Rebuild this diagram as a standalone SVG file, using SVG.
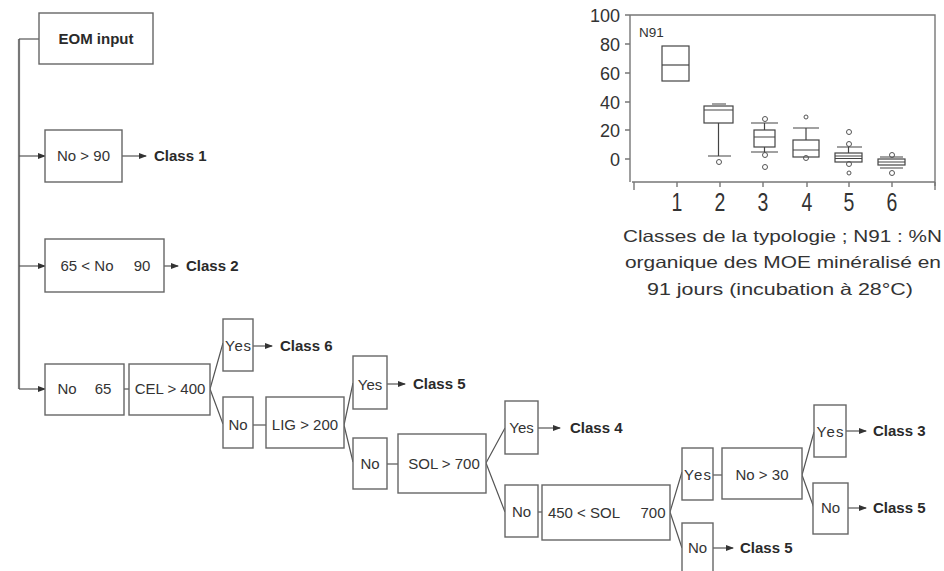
<svg xmlns="http://www.w3.org/2000/svg" width="944" height="571" viewBox="0 0 944 571">
<defs>
<style>
.bx{fill:#fff;stroke:#666;stroke-width:1.4}
.ln{fill:none;stroke:#555;stroke-width:1.2}
.ar{fill:none;stroke:#555;stroke-width:1.2;marker-end:url(#ah)}
.t{font-family:"Liberation Sans",Arial,sans-serif;font-size:15px;fill:#333;text-anchor:middle}
.c{font-family:"Liberation Sans",Arial,sans-serif;font-size:15px;font-weight:bold;fill:#2a2a2a}
.pl{fill:none;stroke:#444;stroke-width:1.2}
.ax{fill:none;stroke:#777;stroke-width:1.4}
.o{fill:none;stroke:#555;stroke-width:1}
.yl{font-family:"Liberation Sans",Arial,sans-serif;font-size:18px;fill:#333;text-anchor:end}
.xl{font-family:"Liberation Sans",Arial,sans-serif;font-size:25px;fill:#333;text-anchor:middle}
.cap{font-family:"Liberation Sans",Arial,sans-serif;font-size:16.5px;fill:#333}
</style>
<marker id="ah" markerWidth="8" markerHeight="6" refX="7" refY="3" orient="auto" markerUnits="userSpaceOnUse">
<path d="M0,0 L8,3 L0,6 Z" fill="#333"/>
</marker>
</defs>
<rect width="944" height="571" fill="#fff"/>

<g id="connectors">
<path class="ln" d="M19,39 V389" style="stroke:#777;stroke-width:2.2"/>
<path class="ln" d="M19,39 H39"/>
<path class="ar" d="M19,156 H45"/>
<path class="ar" d="M122,156 H146"/>
<path class="ar" d="M19,266 H45"/>
<path class="ar" d="M164,266 H178"/>
<path class="ar" d="M19,389 H45"/>
<path class="ln" d="M124,389 H129"/>
<path class="ln" d="M210,389 L223,343 M210,389 L223,424"/>
<path class="ar" d="M253,346 H272"/>
<path class="ln" d="M253,425 H266"/>
<path class="ln" d="M344,425 L353,383 M344,425 L353,462"/>
<path class="ar" d="M387,384 H405"/>
<path class="ln" d="M387,464 H398"/>
<path class="ln" d="M486,463 L505,428 M486,463 L505,512"/>
<path class="ar" d="M538,428 H560"/>
<path class="ln" d="M538,512 H542"/>
<path class="ln" d="M670,512 L682,472 M670,512 L682,548"/>
<path class="ln" d="M713,475 H722"/>
<path class="ar" d="M713,548 H733"/>
<path class="ln" d="M802,475 L814,432 M802,475 L814,508"/>
<path class="ar" d="M846,431 H866"/>
<path class="ar" d="M848,508 H866"/>
</g>

<g id="eom"><rect class="bx" x="39" y="13" width="114" height="51"/><text class="c" x="96" y="44" text-anchor="middle">EOM input</text></g>
<g id="n1"><rect class="bx" x="45" y="130" width="77" height="52"/><text class="t" x="83.5" y="161">No &gt; 90</text></g>
<g id="class1"><text class="c" x="154" y="161">Class 1</text></g>
<g id="n2"><rect class="bx" x="45" y="239" width="119" height="53"/><text class="t" x="87" y="271">65 &lt; No</text><text class="t" x="142" y="271">90</text></g>
<g id="class2"><text class="c" x="186" y="271">Class 2</text></g>
<g id="n3"><rect class="bx" x="45" y="364" width="79" height="51"/><text class="t" x="67" y="394">No</text><text class="t" x="103" y="394">65</text></g>
<g id="cel"><rect class="bx" x="129" y="364" width="81" height="51"/><text class="t" x="170" y="394">CEL &gt; 400</text></g>
<g id="yes1"><rect class="bx" x="223" y="319" width="30" height="52"/><text class="t" x="238" y="351" textLength="26">Yes</text></g>
<g id="class6"><text class="c" x="280" y="351">Class 6</text></g>
<g id="no1"><rect class="bx" x="223" y="397" width="30" height="51"/><text class="t" x="238" y="430">No</text></g>
<g id="lig"><rect class="bx" x="266" y="397" width="78" height="51"/><text class="t" x="305" y="430">LIG &gt; 200</text></g>
<g id="yes2"><rect class="bx" x="353" y="356" width="34" height="53"/><text class="t" x="370" y="390">Yes</text></g>
<g id="class5a"><text class="c" x="413" y="389">Class 5</text></g>
<g id="no2"><rect class="bx" x="353" y="438" width="34" height="51"/><text class="t" x="370" y="469">No</text></g>
<g id="sol1"><rect class="bx" x="398" y="434" width="88" height="59"/><text class="t" x="444" y="469">SOL &gt; 700</text></g>
<g id="yes3"><rect class="bx" x="505" y="401" width="33" height="53"/><text class="t" x="521.5" y="433">Yes</text></g>
<g id="class4"><text class="c" x="570" y="433">Class 4</text></g>
<g id="no3"><rect class="bx" x="505" y="485" width="33" height="52"/><text class="t" x="521.5" y="517">No</text></g>
<g id="sol2"><rect class="bx" x="542" y="485" width="128" height="55"/><text class="t" x="584" y="518">450 &lt; SOL</text><text class="t" x="653" y="518">700</text></g>
<g id="yes4"><rect class="bx" x="682" y="448" width="31" height="52"/><text class="t" x="697.5" y="480" textLength="27">Yes</text></g>
<g id="no30"><rect class="bx" x="722" y="448" width="80" height="51"/><text class="t" x="762" y="480">No &gt; 30</text></g>
<g id="no4"><rect class="bx" x="682" y="523" width="31" height="56"/><text class="t" x="697.5" y="553">No</text></g>
<g id="class5c"><text class="c" x="740" y="553">Class 5</text></g>
<g id="yes5"><rect class="bx" x="814" y="405" width="32" height="52"/><text class="t" x="830" y="437" textLength="27">Yes</text></g>
<g id="class3"><text class="c" x="873" y="436">Class 3</text></g>
<g id="no5"><rect class="bx" x="813" y="483" width="35" height="51"/><text class="t" x="830.5" y="513">No</text></g>
<g id="class5b"><text class="c" x="873" y="513">Class 5</text></g>

<g id="chart">
<path class="ax" d="M630,15 H935 V186 M630,15 V182 M632,182 H935"/>
<path class="ax" d="M625,15 H630 M625,44 H630 M625,73 H630 M625,102 H630 M625,130 H630 M625,159 H630"/>
<path class="ax" d="M634,182 V190 M677,182 V187 M720,182 V187 M763,182 V187 M807,182 V187 M849,182 V187 M892,182 V187 M935,182 V190"/>
<text class="yl" x="620" y="22">100</text>
<text class="yl" x="620" y="51">80</text>
<text class="yl" x="620" y="80">60</text>
<text class="yl" x="620" y="109">40</text>
<text class="yl" x="620" y="137">20</text>
<text class="yl" x="620" y="166">0</text>
<text class="xl" transform="translate(677,211) scale(0.78,1)">1</text>
<text class="xl" transform="translate(720,211) scale(0.78,1)">2</text>
<text class="xl" transform="translate(763,211) scale(0.78,1)">3</text>
<text class="xl" transform="translate(807,211) scale(0.78,1)">4</text>
<text class="xl" transform="translate(849,211) scale(0.78,1)">5</text>
<text class="xl" transform="translate(892,211) scale(0.78,1)">6</text>
<text x="639" y="37" style="font-family:'Liberation Sans',Arial,sans-serif;font-size:13.5px;fill:#333">N91</text>
<!-- box 1 -->
<rect class="pl" x="662" y="46" width="27" height="35"/><path class="pl" d="M662,65 H689"/>
<!-- box 2 -->
<rect class="pl" x="704" y="106" width="29" height="17"/><path class="pl" d="M704,110 H733 M712,104 H726 M718.5,123 V156 M708,156 H731"/>
<circle class="o" cx="719" cy="162" r="2.5"/>
<!-- box 3 -->
<rect class="pl" x="754" y="130" width="21" height="17"/><path class="pl" d="M754,137 H775 M764.5,130 V123 M751,123 H778 M764.5,147 V152 M751,152 H778"/>
<circle class="o" cx="765" cy="119" r="2.5"/><circle class="o" cx="765" cy="155" r="2.5"/><circle class="o" cx="765" cy="167" r="2.5"/>
<!-- box 4 -->
<rect class="pl" x="793" y="140" width="26" height="17"/><path class="pl" d="M793,150 H819 M806,140 V128 M793,128 H819"/>
<circle class="o" cx="806" cy="117" r="2"/><circle class="o" cx="806" cy="158" r="2.5"/>
<!-- box 5 -->
<rect class="pl" x="835" y="153" width="27" height="9"/><path class="pl" d="M835,156 H862 M835,158.5 H862 M848.5,153 V147 M837,147 H862"/>
<circle class="o" cx="849" cy="132" r="2.5"/><circle class="o" cx="849" cy="144" r="2.5"/><circle class="o" cx="849" cy="164" r="2.5"/><circle class="o" cx="849" cy="173" r="2"/>
<!-- box 6 -->
<rect class="pl" x="878" y="159" width="27" height="6"/><path class="pl" d="M878,162 H905 M880,157 H903 M880,168 H903"/>
<circle class="o" cx="892" cy="155" r="2.5"/><circle class="o" cx="892" cy="173" r="2.5"/>
<text class="cap" x="623" y="242" textLength="319" lengthAdjust="spacingAndGlyphs">Classes de la typologie ; N91 : %N</text>
<text class="cap" x="625" y="268" textLength="316" lengthAdjust="spacingAndGlyphs">organique des MOE minéralisé en</text>
<text class="cap" x="647" y="295" textLength="266" lengthAdjust="spacingAndGlyphs">91 jours (incubation à 28°C)</text>
</g>
</svg>
